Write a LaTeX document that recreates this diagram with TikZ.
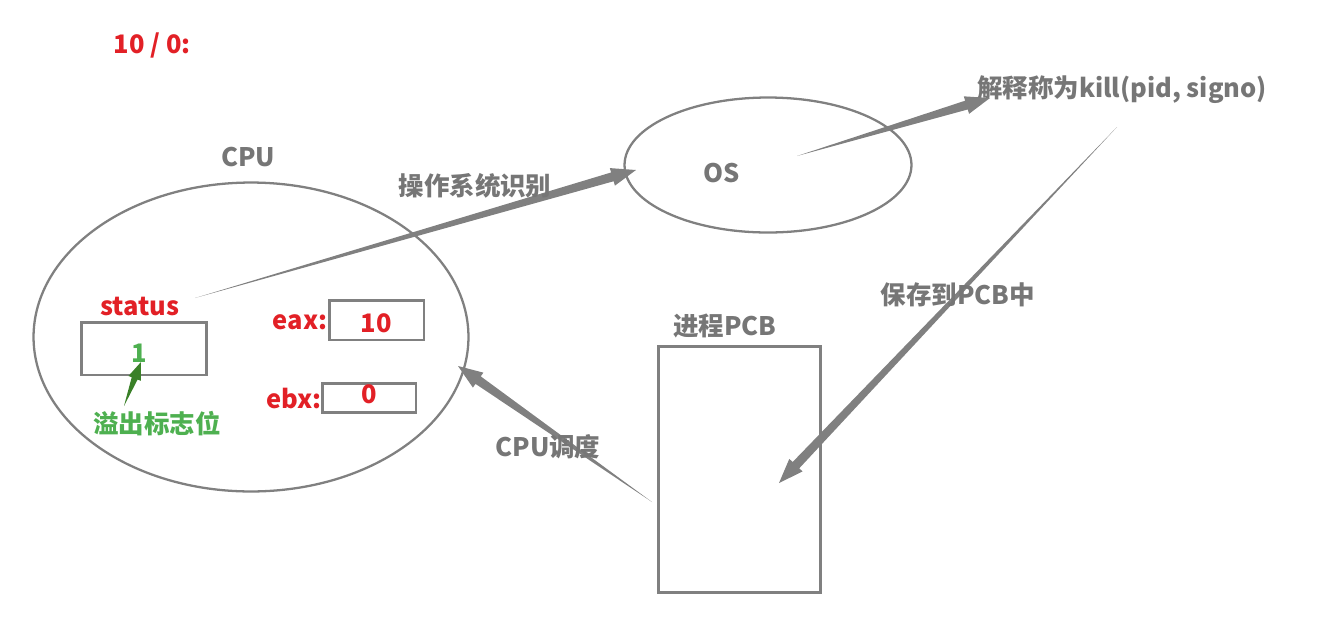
\documentclass[tikz,border=0pt]{standalone}
\usepackage{fontspec}
\setmainfont{Noto Sans CJK SC}
\usetikzlibrary{calc,shapes.geometric}
\definecolor{linecol}{RGB}{128,128,128}
\definecolor{txtcol}{RGB}{118,118,118}
\definecolor{regcol}{RGB}{226,32,38}
\definecolor{flagcol}{RGB}{78,176,80}
\definecolor{flagarrow}{RGB}{58,128,40}

% tapered arrow: from, to, colour, shaft half width, head length, head half width
\newcommand{\fatarrow}[6]{%
  \coordinate (fa-base) at ($(#2)!#5!(#1)$);
  \fill[#3] (#1) -- ($(fa-base)!#4!90:(#2)$) -- ($(fa-base)!#6!90:(#2)$) -- (#2)
    -- ($(fa-base)!#6!-90:(#2)$) -- ($(fa-base)!#4!-90:(#2)$) -- cycle;}

\begin{document}
\begin{tikzpicture}[x=0.02cm, y=-0.02cm,
    lbl/.style={font=\bfseries\fontsize{14.5pt}{17pt}\selectfont, text=txtcol, inner sep=1pt},
    regtxt/.style={lbl, text=regcol},
    flagtxt/.style={lbl, text=flagcol},
    reg/.style={rectangle, draw=linecol, line width=1.7pt, inner sep=0pt},
    blob/.style={ellipse, draw=linecol, line width=1.3pt, inner sep=0pt},
]
\useasboundingbox (0,0) rectangle (1323,620);

\node[regtxt] (title) at (152,45) {10 / 0:};

% CPU
\node[blob, minimum width=8.7cm, minimum height=6.18cm] (cpu) at (251,337) {};
\node[lbl] (cpulbl) at (248,157) {CPU};
\node[regtxt] (status) at (140,306) {status};
\node[reg, minimum width=2.52cm, minimum height=1.06cm] (stbox) at (144,348.5) {};
\node[flagtxt] (flag) at (139,353) {1};
\node[flagtxt] (flaglbl) at (157,424) {溢出标志位};
\node[regtxt] (eaxlbl) at (300,322) {eax:};
\node[reg, regtxt, minimum width=1.9cm, minimum height=0.8cm, text depth=0pt, text height=14pt] (eax) at (376.5,320) {10};
\node[regtxt] (ebxlbl) at (294,398) {ebx:};
\node[reg, regtxt, minimum width=1.88cm, minimum height=0.56cm, text depth=4pt] (ebx) at (369,398) {0};

% OS
\node[blob, minimum width=5.74cm, minimum height=2.7cm] (os) at (768,165) {};
\node[lbl] (oslbl) at (722,173) {OS};
\node[lbl, anchor=west] (kill) at (975,90) {解释称为kill(pid, signo)};

% PCB
\node[reg, minimum width=3.26cm, minimum height=4.94cm] (pcb) at (739.5,469.5) {};
\node[lbl] (pcblbl) at (725,326) {进程PCB};

% arrow ends
\coordinate (st-out) at (195,298);
\coordinate (os-in) at (636,170);
\coordinate (os-out) at (797,156);
\coordinate (kill-in) at (990,98);
\coordinate (kill-out) at (1117,127);
\coordinate (pcb-in) at (779,483);
\coordinate (pcb-out) at (652,502);
\coordinate (cpu-in) at (458,366);
\coordinate (fl-out) at (124,406);
\coordinate (fl-in) at (141,362);

\fatarrow{st-out}{os-in}{linecol}{2.6pt}{14pt}{5.2pt}
\fatarrow{os-out}{kill-in}{linecol}{2.6pt}{14pt}{5.2pt}
\fatarrow{kill-out}{pcb-in}{linecol}{2.6pt}{14pt}{5.2pt}
\fatarrow{pcb-out}{cpu-in}{linecol}{2.6pt}{14pt}{5.2pt}
\fatarrow{fl-out}{fl-in}{flagarrow}{1.8pt}{10pt}{3.8pt}

\node[lbl] (identify) at (475,186) {操作系统识别};
\node[lbl] (save) at (958,295) {保存到PCB中};
\node[lbl] (sched) at (548,447) {CPU调度};
\end{tikzpicture}
\end{document}
